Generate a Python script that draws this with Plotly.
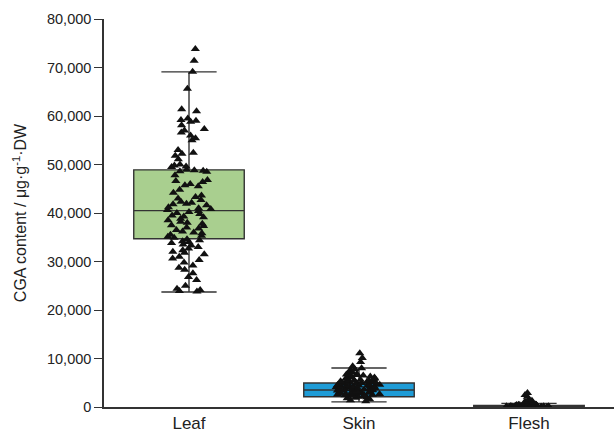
import plotly.graph_objects as go

categories = ["Leaf", "Skin", "Flesh"]

# Box statistics: [lower whisker, Q1, median, Q3, upper whisker]
box_lower = [23700, 1050, 10]
box_q1 = [34700, 2100, 80]
box_median = [40500, 3500, 180]
box_q3 = [48900, 4950, 330]
box_upper = [69100, 8050, 750]
box_colors = ["#a9cf8f", "#1e9cd7", "#8c8c8c"]

leaf_values = [
    73800, 71400, 69100, 65600, 61400, 61000, 59500, 59200, 59000, 58800, 58100,
    57300, 57000, 56600, 56000, 55400, 55000, 53000, 52400, 52200, 51800, 51100,
    50000, 49800, 49600, 49500, 48900, 48800, 48700, 48600, 48500, 47800, 46800,
    46600, 46400, 46000, 45700, 45500, 44800, 44200, 43600, 43300, 43000, 42700,
    42300, 42100, 41900, 41800, 41600, 41200, 41000, 40800, 40600, 40400, 40200,
    40000, 39800, 39500, 39300, 39100, 38800, 38500, 38200, 38000, 37800, 37500,
    37300, 37000, 36800, 36500, 36200, 36000, 35800, 35500, 35300, 35100, 34900,
    34600, 34400, 34200, 34000, 33800, 33500, 33300, 33000, 32700, 32300, 32000,
    31800, 31500, 31000, 30600, 30300, 29800, 29200, 28700, 28300, 27600, 26800,
    26200, 25000, 24400, 24100, 23900, 23800,
]

skin_values = [
    11100, 10100, 9300, 8400, 8000, 7800, 7600, 7300, 7100, 7000, 6800, 6700,
    6600, 6500, 6300, 6200, 6100, 6000, 5900, 5800, 5700, 5600, 5500, 5450,
    5400, 5300, 5250, 5200, 5100, 5050, 5000, 4950, 4900, 4850, 4800, 4700,
    4650, 4600, 4550, 4500, 4450, 4400, 4350, 4300, 4250, 4200, 4150, 4100,
    4050, 4000, 3950, 3900, 3850, 3800, 3750, 3700, 3650, 3600, 3550, 3500,
    3450, 3400, 3350, 3300, 3250, 3200, 3150, 3100, 3050, 3000, 2950, 2900,
    2850, 2800, 2750, 2700, 2650, 2600, 2550, 2500, 2450, 2400, 2300, 2200,
    2100, 2000, 1900, 1800, 1600, 1400, 1200,
]

flesh_values = [
    2900, 2500, 2100, 1500, 1300, 1100, 900, 800, 700, 650, 600, 550, 500, 480,
    450, 420, 400, 380, 350, 330, 300, 280, 260, 250, 230, 220, 200, 190, 180,
    170, 160, 150, 140, 130, 120, 110, 100, 90, 80, 70, 60, 50, 40, 30, 20,
]

point_values = [leaf_values, skin_values, flesh_values]

fig = go.Figure()

for i, cat in enumerate(categories):
    fig.add_trace(go.Box(
        x=[cat],
        q1=[box_q1[i]], median=[box_median[i]], q3=[box_q3[i]],
        lowerfence=[box_lower[i]], upperfence=[box_upper[i]],
        fillcolor=box_colors[i],
        line=dict(color="#333333", width=1.4),
        whiskerwidth=0.5,
        boxpoints=False,
        width=0.65,
        showlegend=False,
        hoverinfo="skip",
    ))

for i, cat in enumerate(categories):
    vals = point_values[i]
    fig.add_trace(go.Box(
        x=[cat] * len(vals),
        y=vals,
        boxpoints="all",
        jitter=0.42,
        pointpos=0,
        fillcolor="rgba(0,0,0,0)",
        line=dict(color="rgba(0,0,0,0)", width=0),
        marker=dict(symbol="triangle-up", size=8, color="#111111"),
        width=0.65,
        showlegend=False,
        hoverinfo="skip",
    ))

fig.update_layout(
    width=614,
    height=435,
    margin=dict(l=104, r=0, t=19, b=28),
    paper_bgcolor="white",
    plot_bgcolor="white",
    boxmode="overlay",
    font=dict(family="Liberation Sans, Arial, sans-serif", color="#222222"),
    xaxis=dict(
        type="category",
        categoryorder="array",
        categoryarray=categories,
        range=[-0.5, 2.5],
        showline=True,
        linecolor="#333333",
        linewidth=1.5,
        ticks="",
        showgrid=False,
        zeroline=False,
        tickfont=dict(size=17),
    ),
    yaxis=dict(
        range=[0, 80000],
        tickvals=[0, 10000, 20000, 30000, 40000, 50000, 60000, 70000, 80000],
        tickformat=",d",
        showline=True,
        linecolor="#333333",
        linewidth=1.5,
        ticks="outside",
        ticklen=8,
        tickwidth=1.3,
        tickcolor="#333333",
        showgrid=False,
        zeroline=False,
        tickfont=dict(size=14.5),
        title=dict(
            text="CGA content / μg·g<sup>-1</sup>·DW",
            font=dict(size=16),
            standoff=16,
        ),
    ),
)

fig.write_html("out.html")
